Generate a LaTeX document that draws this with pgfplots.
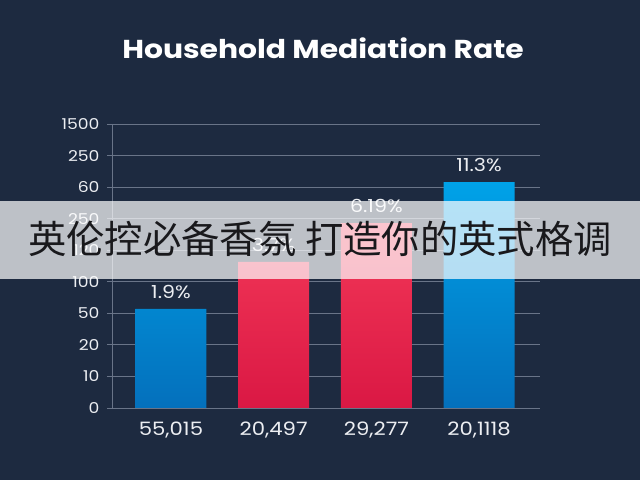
\documentclass[border=0pt]{standalone}
\usepackage{pgfplots}
\pgfplotsset{compat=1.18}
\usepackage{fontspec}
\setmainfont{Poppins}[FakeStretch=1.15]
\newfontfamily\cjk{Noto Sans CJK SC}
\definecolor{bg}{RGB}{29,42,64}
\definecolor{gridc}{RGB}{105,116,136}
\definecolor{txt}{RGB}{236,238,242}
\definecolor{bluetop}{RGB}{0,162,232}
\definecolor{bluebot}{RGB}{4,112,188}
\definecolor{redtop}{RGB}{243,56,88}
\definecolor{redbot}{RGB}{218,24,68}
\definecolor{bannertxt}{RGB}{25,25,28}

\pgfplotstableread{
x y label
0 3.14 1.9\%
3 7.16 11.3\%
}\bluedata
\pgfplotstableread{
x y label
1 4.63 3.7\%
2 5.86 6.19\%
}\reddata

\begin{document}
\begin{tikzpicture}[x=1bp,y=1bp]
\fill[bg] (0,0) rectangle (640,480);
\node[text=white, font=\fontsize{26}{30}\selectfont\bfseries] at (323,432) {Household Mediation Rate};
\begin{axis}[
  at={(112bp,72bp)}, anchor=south west,
  scale only axis, width=428bp, height=284bp,
  xmin=-0.574, xmax=3.593, ymin=0, ymax=9,
  axis lines*=left,
  x axis line style={draw=none},
  y axis line style={gridc, line width=0.8bp},
  ytick={0,...,9},
  yticklabels={0,10,20,50,100,120,250,60,250,1500},
  xtick={0,1,2,3},
  xticklabels={{55,015},{20,497},{29,277},{20,1118}},
  xtick style={draw=none},
  ytick style={gridc, line width=0.8bp},
  tick align=outside,
  major tick length=5bp,
  ymajorgrids,
  grid style={gridc, line width=0.8bp},
  yticklabel style={text=txt, font=\fontsize{15}{17}\selectfont, anchor=east, xshift=-4bp},
  xticklabel style={text=txt, font=\fontsize{18.5}{20}\selectfont, yshift=-5bp},
  nodes near coords,
  point meta=explicit symbolic,
  nodes near coords style={text=txt, font=\fontsize{18}{20}\selectfont, anchor=south, yshift=7bp},
  clip=false,
]
\addplot[ybar, bar width=71bp, bar shift=0pt, draw=none, top color=bluetop, bottom color=bluebot]
  table[x=x, y=y, meta=label] {\bluedata};
\addplot[ybar, bar width=71bp, bar shift=0pt, draw=none, top color=redtop, bottom color=redbot]
  table[x=x, y=y, meta=label] {\reddata};
\end{axis}
\fill[white, opacity=0.71] (0,201) rectangle (640,279);
\node[text=bannertxt, font=\cjk\fontsize{38.5}{42}\selectfont] at (320,241) {英伦控必备香氛 打造你的英式格调};
\end{tikzpicture}
\end{document}
